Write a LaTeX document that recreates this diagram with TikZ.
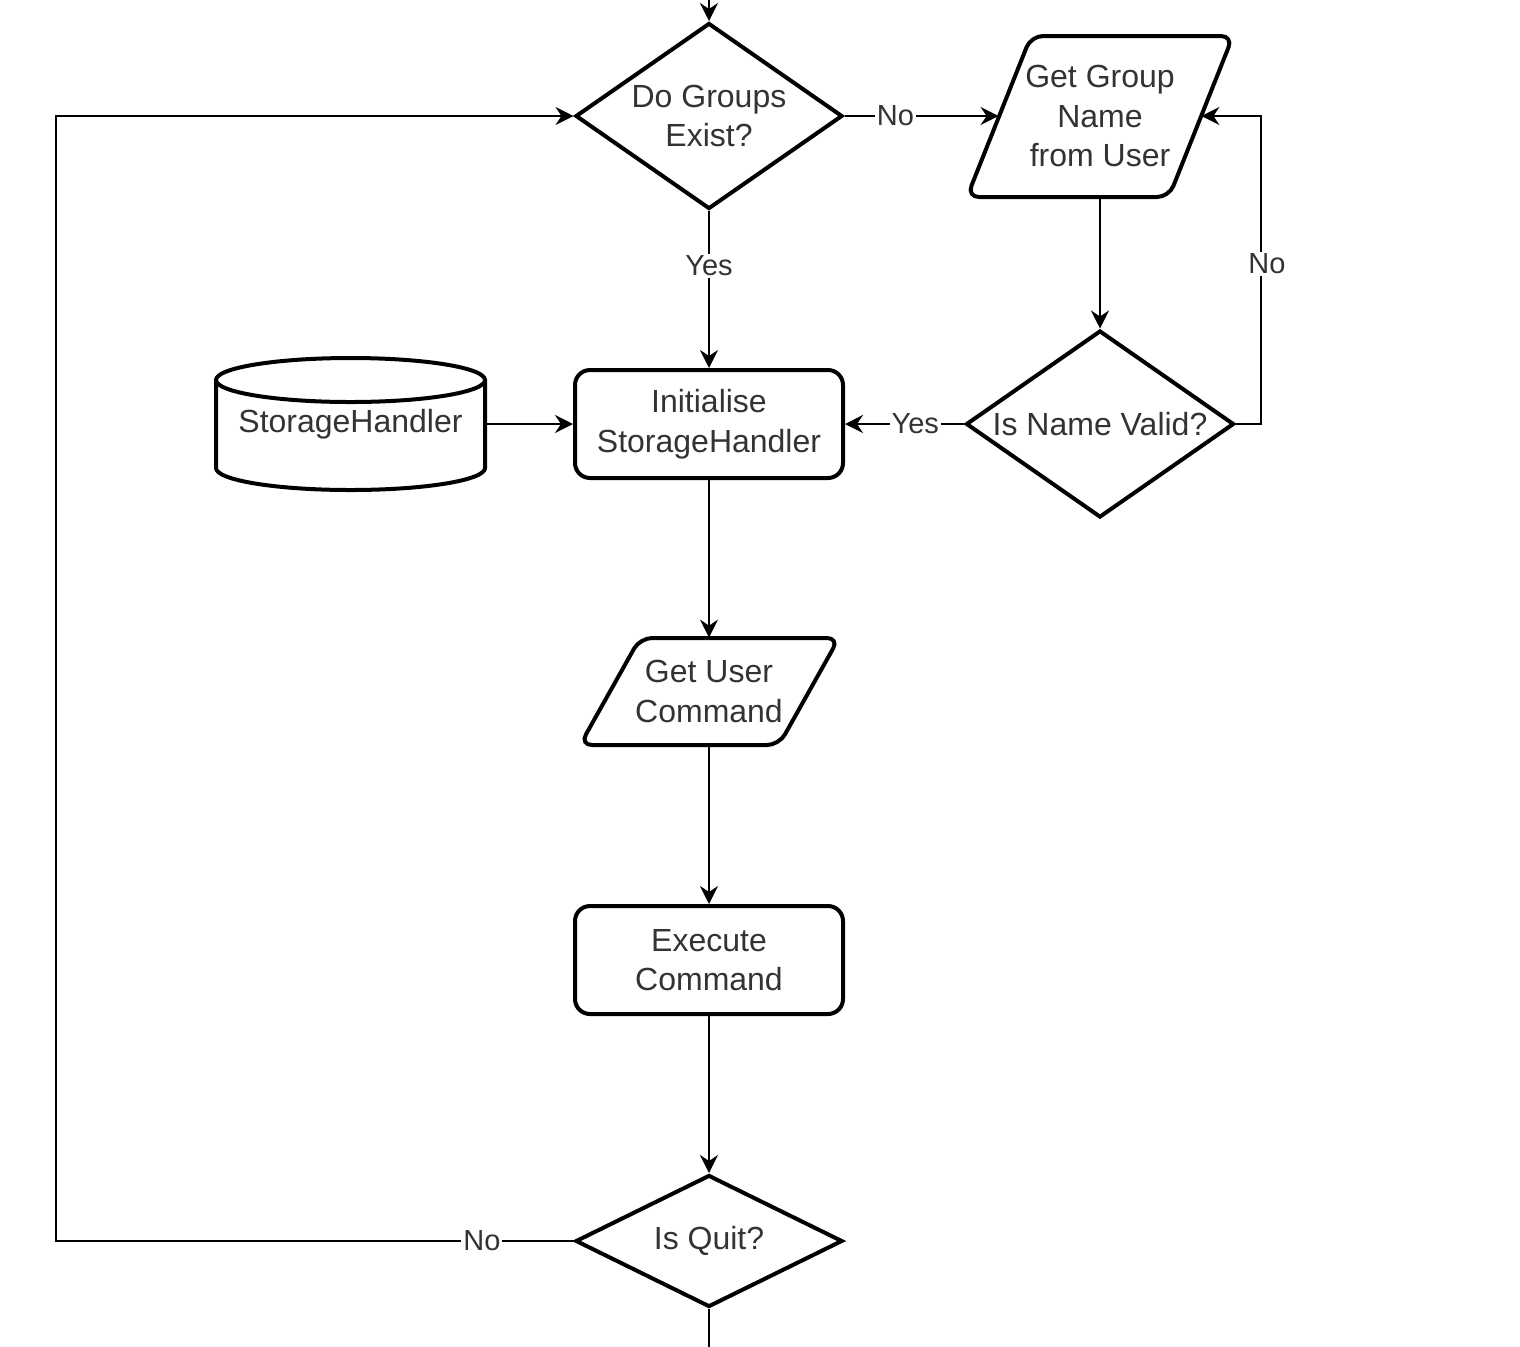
\documentclass[tikz,border=0pt]{standalone}
\usepackage{fontspec}
\setmainfont{Liberation Sans}
\usetikzlibrary{shapes.geometric,arrows.meta}
\begin{document}
\begin{tikzpicture}[x=0.5pt,y=-0.5pt,
  txt/.style={text=black!80, font=\fontsize{16}{19.8}\selectfont, align=center},
  shapeline/.style={line width=2pt, draw=black},
  decision/.style={diamond, shapeline, inner sep=0pt, fill=white},
  proc/.style={rectangle, rounded corners=7.5pt, shapeline, txt, inner sep=0pt, minimum width=134pt, minimum height=54pt},
  anchorbox/.style={rectangle, draw=none, inner sep=0pt, txt},
  conn/.style={line width=1.1pt, -{Stealth[length=9pt,width=9pt,inset=3pt]}},
  plainline/.style={line width=1.1pt},
  lbl/.style={fill=white, inner sep=1pt, text=black!80, font=\fontsize{14.5}{17}\selectfont}
]
\useasboundingbox (0,0) rectangle (1520,1346);

% decisions
\node[decision, minimum width=133.5pt, minimum height=93pt,
      label={[txt]center:Do Groups\\Exist?}] (dg) at (709,116) {};
\node[decision, minimum width=134pt, minimum height=93.5pt,
      label={[txt]center:Is Name Valid?}] (inv) at (1100,424) {};
\node[decision, minimum width=133.5pt, minimum height=66pt,
      label={[txt]center:Is Quit?}] (isq) at (709,1241) {};

% processes
\node[proc] (init) at (709,424) {Initialise\\StorageHandler};
\node[proc] (exec) at (709,960) {Execute\\Command};

% input/output parallelograms
\draw[shapeline, rounded corners=6pt] (1132,36) -- (1233,36) -- (1169,197) -- (967,197) -- (1031,36) -- cycle;
\node[anchorbox, minimum width=101pt, minimum height=80.5pt] (gg) at (1100,116) {Get Group\\Name\\from User};

\draw[shapeline, rounded corners=6pt] (740,638) -- (839,638) -- (779,745) -- (580,745) -- (640,638) -- cycle;
\node[anchorbox, minimum width=99.5pt, minimum height=53.5pt] (gu) at (709,691.5) {Get User\\Command};

% cylinder (data store)
\draw[shapeline, fill=white] (216,380) -- (216,468) arc[start angle=180, end angle=360, x radius=67.25pt, y radius=11pt] -- (485,380);
\draw[shapeline] (350.5,380) ellipse [x radius=67.25pt, y radius=11pt];
\node[anchorbox, minimum width=134.5pt, minimum height=66pt] (sh) at (350.5,424) {StorageHandler};

% free ends and waypoints
\coordinate (top) at (709,-10);
\coordinate (bot) at (709,1356);
\coordinate (lb) at (56,1241);
\coordinate (lt) at (56,116);
\coordinate (rb) at (1261,424);
\coordinate (rt) at (1261,116);

% connectors
\draw[conn] (top) -- (dg.north);
\draw[conn] (dg.east) -- node[lbl, pos=0.33]{No} (gg.west);
\draw[conn] (dg.south) -- node[lbl, pos=0.35]{Yes} (init.north);
\draw[conn] (gg.south) -- (inv.north);
\draw[conn] (inv.east) -- (rb) -- node[lbl, pos=0.52, xshift=3pt]{No} (rt) -- (gg.east);
\draw[conn] (inv.west) -- node[lbl, pos=0.41]{Yes} (init.east);
\draw[conn] (sh.east) -- (init.west);
\draw[conn] (init.south) -- (gu.north);
\draw[conn] (gu.south) -- (exec.north);
\draw[conn] (exec.south) -- (isq.north);
\draw[plainline] (isq.south) -- (bot);
\draw[conn] (isq.west) -- node[lbl, pos=0.177]{No} (lb) -- (lt) -- (dg.west);
\end{tikzpicture}
\end{document}
